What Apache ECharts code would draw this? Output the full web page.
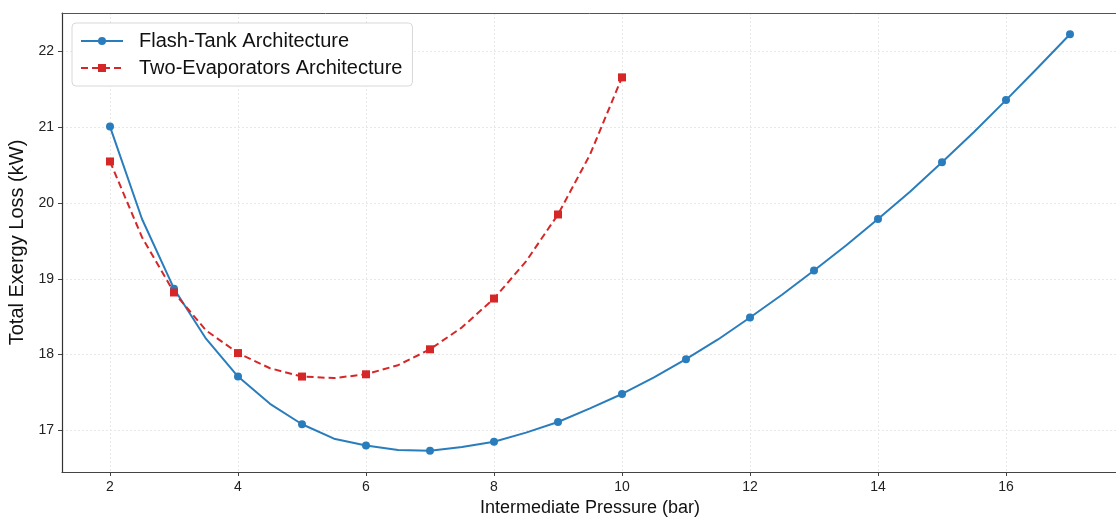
<!DOCTYPE html>
<html>
<head>
<meta charset="utf-8">
<script src="https://cdn.jsdelivr.net/npm/echarts@6/dist/echarts.min.js"></script>
<style>
  html, body { margin: 0; padding: 0; background: #fff; }
  #chart { width: 1116px; height: 518px; }
</style>
</head>
<body>
<div id="chart"></div>
<script>
// pressure steps (bar) and total exergy loss (kW)
const xFlash = [2, 2.5, 3, 3.5, 4, 4.5, 5, 5.5, 6, 6.5, 7, 7.5, 8, 8.5, 9, 9.5, 10,
  10.5, 11, 11.5, 12, 12.5, 13, 13.5, 14, 14.5, 15, 15.5, 16, 16.5, 17]
const yFlash = [21.01, 19.79, 18.87, 18.21, 17.71, 17.35, 17.08, 16.89, 16.80, 16.74, 16.73, 16.78, 16.85, 16.97, 17.11, 17.29, 17.48,
  17.70, 17.94, 18.20, 18.49, 18.79, 19.11, 19.44, 19.79, 20.15, 20.54, 20.94, 21.36, 21.79, 22.23]
const xTwo = [2, 2.5, 3, 3.5, 4, 4.5, 5, 5.5, 6, 6.5, 7, 7.5, 8, 8.5, 9, 9.5, 10]
const yTwo = [20.55, 19.55, 18.82, 18.32, 18.02, 17.82, 17.71, 17.69, 17.74, 17.86, 18.07, 18.36, 18.74, 19.23, 19.85, 20.64, 21.66]
const xTicks = [2, 4, 6, 8, 10, 12, 14, 16]
const yTicks = [17, 18, 19, 20, 21, 22]

const font = 'Liberation Sans, Arial, sans-serif'

// markers only on whole-bar points
const toPoints = (xs, ys, sym) =>
  xs.map((x, i) => ({ value: [x, ys[i]], symbol: x % 1 === 0 ? sym : 'none' }))

const chart = echarts.init(document.getElementById('chart'))

const option = {
  animation: false,
  grid: { left: 62, right: -2, top: 13, bottom: 46, outerBoundsMode: 'none' },
  legend: {
    left: 72,
    top: 23,
    orient: 'vertical',
    backgroundColor: '#fff',
    borderColor: '#d8d8d8',
    borderWidth: 1,
    borderRadius: 4,
    padding: [8, 10, 8, 8],
    itemWidth: 42,
    itemHeight: 10,
    itemGap: 7,
    textStyle: { fontFamily: font, fontSize: 20, color: '#111', padding: [0, 0, 0, 11] },
  },
  xAxis: [
    {
      type: 'value',
      min: 1.25,
      max: 17.75,
      splitNumber: 8,
      name: 'Intermediate Pressure (bar)',
      nameLocation: 'middle',
      nameGap: 26,
      nameTextStyle: { fontFamily: font, fontSize: 18, color: '#111' },
      axisLine: { show: true, onZero: false, lineStyle: { color: '#444', width: 1.2 } },
      axisTick: { show: true, customValues: xTicks, length: 4, lineStyle: { color: '#444' } },
      axisLabel: { customValues: xTicks, fontFamily: font, fontSize: 14, color: '#222', margin: 8 },
      splitLine: { show: true, lineStyle: { color: '#e8e8e8', type: [2, 2], width: 1 } },
    },
    {
      type: 'value',
      position: 'top',
      min: 1.25,
      max: 17.75,
      axisLine: { show: true, onZero: false, lineStyle: { color: '#555', width: 1 } },
      axisTick: { show: false },
      axisLabel: { show: false },
      splitLine: { show: false },
    },
  ],
  yAxis: {
    type: 'value',
    min: 16.45,
    max: 22.51,
    splitNumber: 6,
    name: 'Total Exergy Loss (kW)',
    nameLocation: 'middle',
    nameGap: 28,
    nameTextStyle: { fontFamily: font, fontSize: 20, color: '#111' },
    axisLine: { show: true, onZero: false, lineStyle: { color: '#333', width: 1.2 } },
    axisTick: { show: true, customValues: yTicks, length: 4, lineStyle: { color: '#444' } },
    axisLabel: { customValues: yTicks, fontFamily: font, fontSize: 14, color: '#222', margin: 8 },
    splitLine: { show: true, lineStyle: { color: '#e8e8e8', type: [2, 2], width: 1 } },
  },
  series: [
    {
      name: 'Flash-Tank Architecture',
      type: 'line',
      data: toPoints(xFlash, yFlash, 'circle'),
      symbol: 'circle',
      symbolSize: 8,
      color: '#2a7dbc',
      lineStyle: { width: 2, color: '#2a7dbc' },
      itemStyle: { color: '#2a7dbc' },
      z: 3,
    },
    {
      name: 'Two-Evaporators Architecture',
      type: 'line',
      data: toPoints(xTwo, yTwo, 'rect'),
      symbol: 'rect',
      symbolSize: 8,
      color: '#d62728',
      lineStyle: { width: 2, color: '#d62728', type: [7, 4] },
      itemStyle: { color: '#d62728' },
      z: 4,
    },
  ],
}

option && chart.setOption(option)
</script>
</body>
</html>
